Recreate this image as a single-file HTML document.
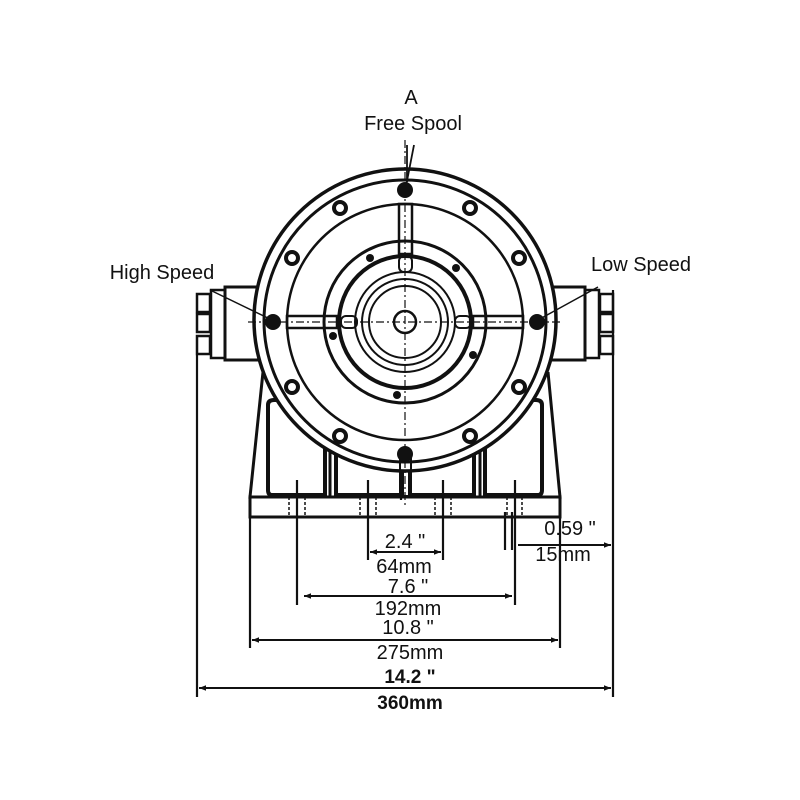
<!DOCTYPE html>
<html><head><meta charset="utf-8"><style>
html,body{margin:0;padding:0;background:#fff}
svg{display:block}
text{font-family:"Liberation Sans",Arial,sans-serif;fill:#111}
</style></head><body>
<svg width="800" height="800" viewBox="0 0 800 800" xmlns="http://www.w3.org/2000/svg">
<defs>
<marker id="a" viewBox="0 0 10 10" refX="10" refY="5" markerWidth="14" markerHeight="7" orient="auto-start-reverse" markerUnits="userSpaceOnUse"><path d="M0,1 L10,5 L0,9z" fill="#111"/></marker>
</defs>
<g fill="none" stroke="#111" stroke-width="2">
<rect x="225" y="287" width="38" height="73" stroke-width="3"/>
<rect x="211" y="290" width="14" height="68" stroke-width="2.5"/>
<rect x="197" y="294" width="13" height="18" stroke-width="2.5"/>
<rect x="197" y="314" width="13" height="18" stroke-width="2.5"/>
<rect x="197" y="336" width="13" height="18" stroke-width="2.5"/>
<rect x="546" y="287" width="39" height="73" stroke-width="3"/>
<rect x="585" y="290" width="14" height="68" stroke-width="2.5"/>
<rect x="600" y="294" width="13" height="18" stroke-width="2.5"/>
<rect x="600" y="314" width="13" height="18" stroke-width="2.5"/>
<rect x="600" y="336" width="13" height="18" stroke-width="2.5"/>
<path d="M263 372 L250 497 L560 497 L548 372" stroke-width="3" fill="#fff"/>
<rect x="250" y="497" width="310" height="20" stroke-width="3" fill="#fff"/>
<path d="M268 405 Q268 400 274 400 L292 400 L325 440 L325 495 L272 495 Q268 495 268 490Z" stroke-width="4"/>
<path d="M336 446 L402 470 L402 495 L336 495Z" stroke-width="4"/>
<path d="M542 405 Q542 400 536 400 L518 400 L485 440 L485 495 L538 495 Q542 495 542 490Z" stroke-width="4"/>
<path d="M474 446 L410 470 L410 495 L474 495Z" stroke-width="4"/>
<line x1="330" y1="440" x2="330" y2="497" stroke-width="3"/>
<line x1="480" y1="440" x2="480" y2="497" stroke-width="3"/>
<circle cx="405" cy="320" r="151" stroke-width="3.5" fill="#fff"/>
<circle cx="405" cy="321" r="141" stroke-width="3"/>
<circle cx="405" cy="322" r="118" stroke-width="2.5"/>
<circle cx="405" cy="322" r="81" stroke-width="3"/>
<circle cx="405" cy="322" r="66" stroke-width="4"/>
<circle cx="405" cy="322" r="50" stroke-width="2"/>
<circle cx="405" cy="322" r="43" stroke-width="2"/>
<circle cx="405" cy="322" r="36" stroke-width="2"/>
<circle cx="405" cy="322" r="11" stroke-width="2.5"/>
<rect x="399" y="204" width="13" height="50" stroke-width="2.5"/>
<rect x="287" y="316" width="50" height="12" stroke-width="2.5"/>
<rect x="473" y="316" width="50" height="12" stroke-width="2.5"/>
<rect x="399" y="256" width="13" height="16" rx="5"/>
<rect x="341" y="316" width="16" height="12" rx="5"/>
<rect x="455" y="316" width="16" height="12" rx="5"/>
<rect x="400" y="454" width="11" height="42"/>
<line x1="405" y1="140" x2="405" y2="505" stroke-width="1.2" stroke-dasharray="8,3,2,3"/>
<line x1="248" y1="322" x2="562" y2="322" stroke-width="1.2" stroke-dasharray="8,3,2,3"/>
<line x1="407" y1="145" x2="407" y2="182" stroke-width="1.8"/>
<line x1="414" y1="145" x2="406" y2="186" stroke-width="1.8"/>
<line x1="210" y1="290" x2="272" y2="320" stroke-width="1.5"/>
<line x1="598" y1="287" x2="538" y2="320" stroke-width="1.5"/>
<g stroke-width="1.5" stroke-dasharray="3,2">
<line x1="289" y1="497" x2="289" y2="517"/><line x1="305" y1="497" x2="305" y2="517"/>
<line x1="360" y1="497" x2="360" y2="517"/><line x1="376" y1="497" x2="376" y2="517"/>
<line x1="435" y1="497" x2="435" y2="517"/><line x1="451" y1="497" x2="451" y2="517"/>
<line x1="507" y1="497" x2="507" y2="517"/><line x1="522" y1="497" x2="522" y2="517"/>
</g>
<g stroke-width="2.2">
<line x1="197" y1="355" x2="197" y2="697"/>
<line x1="613" y1="290" x2="613" y2="697"/>
<line x1="250" y1="517" x2="250" y2="648"/>
<line x1="560" y1="517" x2="560" y2="648"/>
<line x1="297" y1="480" x2="297" y2="605"/>
<line x1="515" y1="480" x2="515" y2="605"/>
<line x1="368" y1="480" x2="368" y2="560"/>
<line x1="443" y1="480" x2="443" y2="560"/>
<line x1="505" y1="512" x2="505" y2="550"/>
<line x1="512" y1="512" x2="512" y2="550"/>
<line x1="401" y1="480" x2="401" y2="500"/>
</g>
</g>
<g fill="#111">
<circle cx="405" cy="190" r="8"/><circle cx="405" cy="454" r="8"/>
<circle cx="273" cy="322" r="8"/><circle cx="537" cy="322" r="8"/>
</g>
<g fill="#fff" stroke="#111" stroke-width="4">
<circle cx="340" cy="208" r="6"/><circle cx="470" cy="208" r="6"/>
<circle cx="292" cy="258" r="6"/><circle cx="519" cy="258" r="6"/>
<circle cx="292" cy="387" r="6"/><circle cx="519" cy="387" r="6"/>
<circle cx="340" cy="436" r="6"/><circle cx="470" cy="436" r="6"/>
</g>
<g fill="#111">
<circle cx="370" cy="258" r="4"/><circle cx="456" cy="268" r="4"/>
<circle cx="473" cy="355" r="4"/><circle cx="397" cy="395" r="4"/>
<circle cx="333" cy="336" r="4"/>
</g>
<g stroke="#111" stroke-width="2" fill="none">
<line x1="199" y1="688" x2="611" y2="688" marker-start="url(#a)" marker-end="url(#a)"/>
<line x1="252" y1="640" x2="558" y2="640" marker-start="url(#a)" marker-end="url(#a)"/>
<line x1="304" y1="596" x2="512" y2="596" marker-start="url(#a)" marker-end="url(#a)"/>
<line x1="370" y1="552" x2="441" y2="552" marker-start="url(#a)" marker-end="url(#a)"/>
<line x1="518" y1="545" x2="611" y2="545" marker-end="url(#a)"/>
</g>
<g font-size="20" text-anchor="middle">
<text x="411" y="104">A</text>
<text x="413" y="130">Free Spool</text>
<text x="162" y="279">High Speed</text>
<text x="641" y="271">Low Speed</text>
<text x="405" y="548">2.4 "</text>
<text x="404" y="573">64mm</text>
<text x="408" y="593">7.6 "</text>
<text x="408" y="615">192mm</text>
<text x="408" y="634">10.8 "</text>
<text x="410" y="659">275mm</text>
<text x="410" y="683" font-weight="bold" font-size="19">14.2 "</text>
<text x="410" y="709" font-weight="bold" font-size="19">360mm</text>
<text x="570" y="535">0.59 "</text>
<text x="563" y="561">15mm</text>
</g>
</svg>
</body></html>
